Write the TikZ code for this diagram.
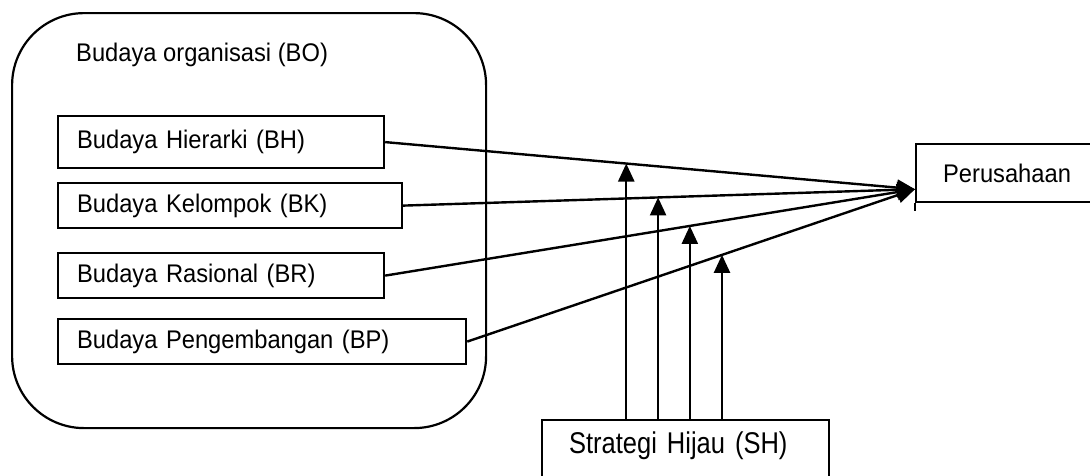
\documentclass[tikz,border=0pt]{standalone}
\usepackage{fontspec}
\setmainfont{Liberation Sans}
\newfontfamily\diagf{Liberation Sans}[FakeStretch=0.93]
\newfontfamily\diagsh{Liberation Sans}[FakeStretch=0.85]
\usetikzlibrary{arrows.meta,calc}
\begin{document}
\begin{tikzpicture}[x=1pt,y=-1pt,
  every node/.style={font=\diagf\fontsize{25.5}{30}\selectfont},
  lw/.style={line width=2.2pt},
  boxn/.style={draw,lw,anchor=north west,inner xsep=20pt,inner ysep=0pt,align=left},
  conn/.style={line width=2.4pt,-{Triangle[length=18pt,width=16pt]}}]
\path[use as bounding box] (0,0) rectangle (1090,475);
\clip (0,0) rectangle (1090,475);
% outer rounded box
\node[draw,lw,rounded corners=72pt,anchor=north west,minimum width=474pt,minimum height=415pt,inner sep=0pt] (bo) at (11,12) {};
\node[anchor=west,inner sep=0pt] (bot) at (76,55) {Budaya organisasi (BO)};
% inner boxes
\node[boxn,inner xsep=19pt,text width=288pt,minimum height=52pt] (bh) at (57,115) {Budaya Hierarki (BH)};
\node[boxn,inner xsep=19pt,text width=306pt,minimum height=45pt] (bk) at (57,182) {Budaya Kelompok (BK)};
\node[boxn,inner xsep=19pt,text width=288pt,minimum height=45pt] (br) at (57,252) {Budaya Rasional (BR)};
\node[boxn,inner xsep=19pt,text width=370pt,minimum height=45pt] (bp) at (57,318) {Budaya Pengembangan (BP)};
% Perusahaan
\node[boxn,inner xsep=27pt,text width=151pt,minimum height=58pt] (per) at (915,143) {Perusahaan};
\draw[lw] (per.south west) -- ++(0,8);
% Strategi Hijau
\node[boxn,inner xsep=27pt,text width=233pt,text height=33pt,text depth=50pt,font=\diagsh\fontsize{30}{34}\selectfont] (sh) at (541,419) {Strategi Hijau (SH)};
\coordinate (tgt) at ($(per.south west)+(0,-14)$);
% main connectors
\draw[conn] (bh.east) -- (tgt);
\draw[conn] (bk.east) -- (tgt);
\draw[conn] (br.east) -- (tgt);
\draw[conn] (bp.east) -- (tgt);
% moderation points
\coordinate (m1) at ($(bh.east)!0.455!(tgt)$);
\coordinate (m2) at ($(bk.east)!0.498!(tgt)$);
\coordinate (m3) at ($(br.east)!0.575!(tgt)$);
\coordinate (m4) at ($(bp.east)!0.569!(tgt)$);
\draw[conn] (m1 |- sh.north) -- (m1);
\draw[conn] (m2 |- sh.north) -- (m2);
\draw[conn] (m3 |- sh.north) -- (m3);
\draw[conn] (m4 |- sh.north) -- (m4);
\end{tikzpicture}
\end{document}
